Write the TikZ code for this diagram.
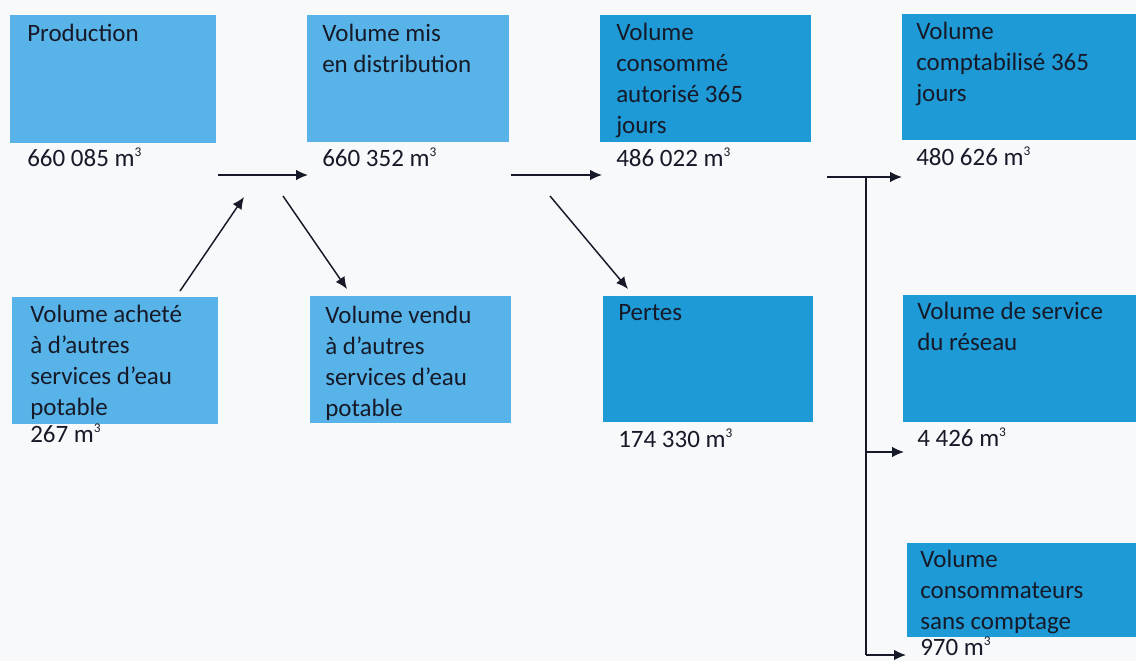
\documentclass[tikz,border=0pt]{standalone}
\usepackage{fontspec}
\setmainfont{Carlito}
\usetikzlibrary{arrows.meta}
\definecolor{lightbox}{HTML}{58B4E8}
\definecolor{darkbox}{HTML}{1E9AD6}
\definecolor{ink}{HTML}{161A28}
\definecolor{bg}{HTML}{F8F9FB}
\newcommand{\fs}{\fontsize{18.75pt}{23.25pt}\selectfont}
\newcommand{\st}{\rule{0pt}{15pt}}
\newcommand{\mc}{m\raisebox{7pt}{\fontsize{10pt}{10pt}\selectfont 3}}
\begin{document}
\begin{tikzpicture}[x=0.75pt,y=-0.75pt,
  box/.style={rectangle, draw=none, inner sep=0pt, outer sep=0pt, anchor=north west},
  sz/.style 2 args={minimum width={#1*0.75pt}, minimum height={#2*0.75pt}},
  lite/.style={box, fill=lightbox},
  dark/.style={box, fill=darkbox},
  txt/.style={inner sep=0pt, anchor=north west, align=left, text=ink, font=\fs},
  val/.style={inner sep=0pt, anchor=base west, text=ink, font=\fs},
  arr/.style={line width=1.1pt, draw=ink, -{Latex[length=9pt,width=8pt]}},
  ln/.style={line width=1.1pt, draw=ink}]
\useasboundingbox (0,0) rectangle (1136,661);
\fill[bg] (0,0) rectangle (1136,661);

% boxes
\node[lite, sz={206}{128}] (b1) at (10,15) {};
\node[lite, sz={202}{127}] (b2) at (307,15) {};
\node[dark, sz={211}{127}] (b3) at (600,15) {};
\node[dark, sz={240}{126}] (b4) at (902,14) {};
\node[lite, sz={206}{127}] (b5) at (12,297) {};
\node[lite, sz={201}{127}] (b6) at (310,296) {};
\node[dark, sz={210}{126}] (b7) at (603,296) {};
\node[dark, sz={240}{127}] (b8) at (903,295) {};
\node[dark, sz={240}{94}] (b9) at (907,543) {};

% box texts
\node[txt] (t1) at (27,21) {\st Production};
\node[txt] (t2) at (322,21) {\st Volume mis\\en distribution};
\node[txt] (t3) at (616,20) {\st Volume\\consommé\\autorisé 365\\jours};
\node[txt] (t4) at (916,19) {\st Volume\\comptabilisé 365\\jours};
\node[txt] (t5) at (30,302) {\st Volume acheté\\à d’autres\\services d’eau\\potable};
\node[txt] (t6) at (325,303) {\st Volume vendu\\à d’autres\\services d’eau\\potable};
\node[txt] (t7) at (618,300) {\st Pertes};
\node[txt] (t8) at (917,299) {\st Volume de service\\du réseau};
\node[txt] (t9) at (920,547) {\st Volume\\consommateurs\\sans comptage};

% values
\node[val] (v1) at (27,166) {660 085 \mc};
\node[val] (v2) at (322,166) {660 352 \mc};
\node[val] (v3) at (616,166) {486 022 \mc};
\node[val] (v4) at (916,165) {480 626 \mc};
\node[val] (v5) at (30,442) {267 \mc};
\node[val] (v7) at (618,447) {174 330 \mc};
\node[val] (v8) at (917,446) {4 426 \mc};
\node[val] (v9) at (920,655) {970 \mc};

% connector end points
\coordinate (a1s) at (218,175);
\coordinate (a1e) at (308,175);
\coordinate (a2s) at (180,291);
\coordinate (a2e) at (244,197);
\coordinate (a3s) at (283,196);
\coordinate (a3e) at (347,289);
\coordinate (a4s) at (511,175);
\coordinate (a4e) at (602,175);
\coordinate (a5s) at (550,196);
\coordinate (a5e) at (628,289);
\coordinate (a6s) at (827,177);
\coordinate (a6e) at (902,177);
\coordinate (j1) at (866,177);
\coordinate (j2) at (866,452);
\coordinate (j3) at (866,655);
\coordinate (a7e) at (904,452);
\coordinate (a8e) at (906,655);

\draw[arr] (a1s) -- (a1e);
\draw[arr] (a2s) -- (a2e);
\draw[arr] (a3s) -- (a3e);
\draw[arr] (a4s) -- (a4e);
\draw[arr] (a5s) -- (a5e);
\draw[arr] (a6s) -- (a6e);
\draw[ln] (j1) -- (j3);
\draw[arr] (j2) -- (a7e);
\draw[arr] (j3) -- (a8e);
\end{tikzpicture}
\end{document}
